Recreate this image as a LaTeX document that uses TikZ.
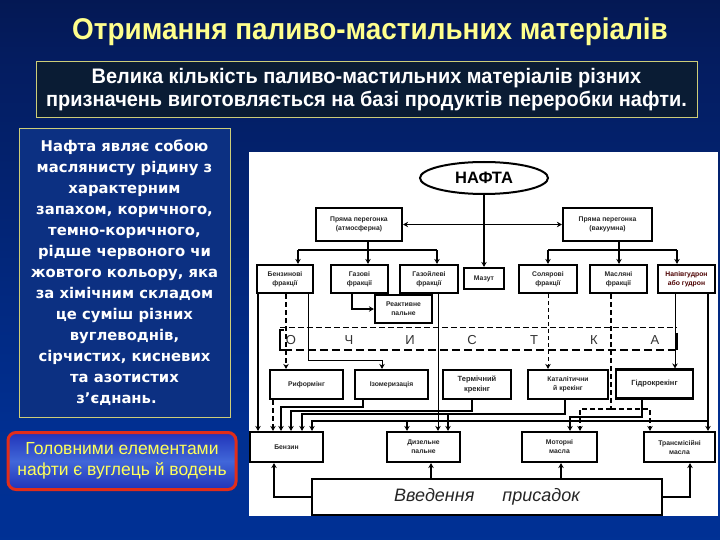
\documentclass[tikz,border=0pt]{standalone}
\usepackage{fontspec}
\setmainfont{Liberation Sans}
\newfontfamily\titlesans{Liberation Sans}[FakeStretch=0.93]
\newfontfamily\introsans{Liberation Sans}[FakeStretch=0.95]
\newfontfamily\dejasans{DejaVu Sans}
\usetikzlibrary{arrows.meta,shapes.geometric}
\definecolor{bgtop}{RGB}{2,6,28}
\definecolor{bgmid}{RGB}{4,28,95}
\definecolor{bgbot}{RGB}{0,51,155}
\definecolor{titleyellow}{RGB}{255,255,140}
\definecolor{boxborder}{RGB}{205,205,120}
\definecolor{darkbox}{RGB}{10,28,52}
\definecolor{descbox}{RGB}{12,48,130}
\definecolor{redframe}{RGB}{225,45,25}
\definecolor{notetext}{RGB}{255,255,90}
\pgfdeclareverticalshading{slidebg}{100bp}{color(0bp)=(bgbot); color(35bp)=(bgbot!85!bgmid); color(70bp)=(bgmid); color(100bp)=(bgtop)}
\pgfdeclareverticalshading{noteshade}{100bp}{color(0bp)=(blue!60!black); color(50bp)=(blue!75!cyan!70!white!85!black); color(100bp)=(blue!60!black)}
\begin{document}
\begin{tikzpicture}[x=1pt,y=-1pt,
  bx/.style={draw=black, line width=2.2pt, fill=white, inner sep=1pt, align=center,
     font=\fontsize{6.8}{9}\selectfont\bfseries, text=black!85},
  ln/.style={line width=1.3pt, black},
  thinln/.style={line width=0.8pt, black},
  dsh/.style={line width=1.8pt, black, dash pattern=on 5pt off 3pt},
  dshthin/.style={line width=0.9pt, black, dash pattern=on 4pt off 3pt},
  arr/.style={-{Stealth[length=5pt,width=5.5pt]}},
  letter/.style={font=\fontsize{13}{13}\selectfont, text=black!80}
]
\useasboundingbox (0,0) rectangle (720,540);
\fill[shading=slidebg] (0,0) rectangle (720,540);

% title
\node[font=\titlesans\bfseries\fontsize{30}{34}\selectfont, text=titleyellow] (title) at (370,32)
  {Отримання паливо-мастильних матеріалів};

% intro box
\node[draw=boxborder, line width=1pt, fill=darkbox, minimum width=661pt, minimum height=56pt,
  align=center, text=white, font=\introsans\bfseries\fontsize{21}{23}\selectfont] (intro) at (366.5,90)
  {Велика кількість паливо-мастильних матеріалів різних\\призначень виготовляється на базі продуктів переробки нафти.};

% description box
\node[draw=boxborder, line width=0.9pt, fill=descbox, minimum width=211pt, minimum height=289pt,
  align=center, text=white, font=\dejasans\bfseries\fontsize{14.8}{21}\selectfont] (desc) at (124.5,272.5)
  {Нафта являє собою\\маслянисту рідину з\\характерним\\запахом, коричного,\\темно-коричного,\\рідше червоного чи\\жовтого кольору, яка\\за хімічним складом\\це суміш різних\\вуглеводнів,\\сірчистих, кисневих\\та азотистих\\з’єднань.\hspace*{16pt}};

% note box
\node[draw=redframe, line width=3pt, rounded corners=8pt, shading=noteshade, minimum width=228pt, minimum height=57pt,
  align=center, text=notetext, font=\fontsize{17.5}{21}\selectfont] (note) at (122,461)
  {Головними елементами\\нафти є вуглець й водень};

% diagram background
\fill[white] (249,152) rectangle (718,516);

% nodes
\node[draw=black, line width=2pt, ellipse, fill=white, minimum width=128pt, minimum height=32pt,
  font=\fontsize{16.5}{18}\selectfont\bfseries] (nafta) at (484,178) {НАФТА};
\node[bx, minimum width=86pt, minimum height=33pt] (pa) at (359,224.5) {Пряма перегонка\\(атмосферна)};
\node[bx, minimum width=89pt, minimum height=33pt] (pv) at (607.5,224.5) {Пряма перегонка\\(вакуумна)};

\node[bx, minimum width=56pt, minimum height=28pt] (bf) at (285,279) {Бензинові\\фракції};
\node[bx, minimum width=57pt, minimum height=28pt] (gf) at (359.5,279) {Газові\\фракції};
\node[bx, minimum width=58pt, minimum height=28pt] (gof) at (429,279) {Газойлеві\\фракції};
\node[bx, minimum width=40pt, minimum height=21pt] (maz) at (484,278.5) {Мазут};
\node[bx, minimum width=58pt, minimum height=28pt] (sf) at (548,279) {Солярові\\фракції};
\node[bx, minimum width=57pt, minimum height=28pt] (mf) at (618.5,279) {Масляні\\фракції};
\node[bx, minimum width=57pt, minimum height=28pt, text=red!30!black] (ng) at (686.5,279) {Напівгудрон\\або гудрон};

\node[bx, minimum width=57pt, minimum height=28pt] (rp) at (403.5,309) {Реактивне\\пальне};

\node[bx, minimum width=73pt, minimum height=29pt] (rif) at (306.5,384.5) {Риформінг};
\node[bx, minimum width=73pt, minimum height=29pt] (izo) at (391.5,384.5) {Ізомеризація};
\node[bx, minimum width=68pt, minimum height=29pt, font=\fontsize{7.5}{10}\selectfont\bfseries] (ter) at (477,384.5) {Термічний\\крекінг};
\node[bx, minimum width=80pt, minimum height=29pt] (kat) at (568,384.5) {Каталітични\\й крекінг};
\node[bx, minimum width=77pt, minimum height=29pt, font=\fontsize{7.5}{10}\selectfont\bfseries] (gid) at (654.5,384) {Гідрокрекінг};

\node[bx, minimum width=73pt, minimum height=30pt] (benz) at (286.5,447) {Бензин};
\node[bx, minimum width=73pt, minimum height=30pt] (diz) at (423.5,447) {Дизельне\\пальне};
\node[bx, minimum width=75pt, minimum height=30pt] (mot) at (559.5,447) {Моторні\\масла};
\node[bx, minimum width=71pt, minimum height=30pt] (tr) at (679.5,447) {Трансмісійні\\масла};

\node[bx, minimum width=350pt, minimum height=36pt, font=\fontsize{18}{20}\selectfont\itshape\mdseries] (vp) at (487,497)
  {Введення\hspace{28pt}присадок};

% OCHISTKA band
\node[minimum width=397pt, minimum height=22pt, inner sep=0pt] (och) at (478.5,339) {};
\draw[line width=1pt, dash pattern=on 6pt off 3pt] (och.north west) -- (och.north east);
\draw[line width=2pt, dash pattern=on 8pt off 4pt] ([xshift=4pt]och.south west) -- (och.south east);
\draw[line width=2.4pt] ([xshift=4pt,yshift=-2pt]och.north west) -- ([yshift=-2pt]och.north west) -- (och.south west) -- ([xshift=4pt]och.south west);
\draw[line width=2.4pt] ([yshift=-5pt]och.north east) -- (och.south east);
\node[letter] (l1) at (291,340) {О};
\node[letter] (l2) at (349,340) {Ч};
\node[letter] (l3) at (410,340) {И};
\node[letter] (l4) at (472,340) {С};
\node[letter] (l5) at (534,340) {Т};
\node[letter] (l6) at (594,340) {К};
\node[letter] (l7) at (655,340) {А};

% NAFTA connectors
\draw[ln,arr] (nafta.south) -- (maz.north);
\draw[ln,{Stealth[length=5pt,width=5.5pt]}-{Stealth[length=5pt,width=5.5pt]}] (pa.east) -- (pv.west);

% atmospheric bus
\coordinate (pa1) at (368,250);
\coordinate (b1) at (298,250);
\coordinate (b2) at (437,250);
\draw[ln] (pa1 |- pa.south) -- (pa1);
\draw[ln] (b1) -- (b2);
\draw[ln,arr] (b1) -- (b1 |- bf.north);
\draw[ln,arr] (pa1) -- (pa1 |- gf.north);
\draw[ln,arr] (b2) -- (b2 |- gof.north);

% vacuum bus
\coordinate (pv1) at (619,250);
\coordinate (b3) at (548,250);
\coordinate (b4) at (677,250);
\draw[ln] (pv1 |- pv.south) -- (pv1);
\draw[ln] (b3) -- (b4);
\draw[ln,arr] (b3) -- (b3 |- sf.north);
\draw[ln,arr] (pv1) -- (pv1 |- mf.north);
\draw[ln,arr] (b4) -- (b4 |- ng.north);

% gas fractions -> jet fuel
\coordinate (g1) at (352,309);
\draw[ln,arr] (g1 |- gf.south) -- (g1) -- (rp.west);

% gasoline fractions
\coordinate (k1) at (258,300);
\coordinate (k2) at (286,300);
\coordinate (k3) at (308,360);
\coordinate (k4) at (382,360);
\draw[ln,arr] (k1 |- bf.south) -- (k1 |- benz.north);
\draw[dsh,arr] (k2 |- bf.south) -- (k2 |- rif.north);
\draw[thinln,arr] (k3 |- bf.south) -- (k3) -- (k4) -- (k4 |- izo.north);

% gasoil -> diesel
\coordinate (k5) at (438,300);
\draw[thinln,arr] (k5 |- gof.south) -- (k5 |- diz.north);

% solar -> catalytic
\draw[dshthin,arr] (b3 |- sf.south) -- (b3 |- kat.north);

% oil fractions -> motor / transmission oils
\coordinate (m0) at (611,409);
\coordinate (m1) at (580,409);
\coordinate (m2) at (650,409);
\draw[dsh] (m0 |- mf.south) -- (m0);
\draw[dsh,arr] (m0) -- (m1) -- (m1 |- mot.north);
\draw[dsh,arr] (m0) -- (m2) -- (m2 |- tr.north);

% tar -> hydrocracking / outputs
\coordinate (n3) at (675,300);
\draw[thinln,arr] (n3 |- ng.south) -- (n3 |- gid.north);
\coordinate (n0) at (708,421);
\coordinate (n1) at (312,421);
\coordinate (n2) at (407,421);
\draw[ln,arr] (n0 |- ng.south) -- (n0 |- tr.north);
\draw[ln,arr] (n0) -- (n1) -- (n1 |- benz.north);
\draw[ln,arr] (n2) -- (n2 |- diz.north);

% reforming -> gasoline
\coordinate (r1) at (273,420);
\draw[dsh,arr] (r1 |- rif.south) -- (r1 |- benz.north);

% isomerisation -> gasoline
\coordinate (i0) at (363,407);
\coordinate (i1) at (281,407);
\draw[ln,arr] (i0 |- izo.south) -- (i0) -- (i1) -- (i1 |- benz.north);

% thermal cracking -> gasoline
\coordinate (t0) at (472,411);
\coordinate (t1) at (291,411);
\draw[ln,arr] (t0 |- ter.south) -- (t0) -- (t1) -- (t1 |- benz.north);

% catalytic cracking -> gasoline, diesel
\coordinate (c0) at (565,414);
\coordinate (c1) at (302,414);
\coordinate (c2) at (448,414);
\draw[ln,arr] (c0 |- kat.south) -- (c0) -- (c1) -- (c1 |- benz.north);
\draw[ln,arr] (c2) -- (c2 |- diz.north);

% hydrocracking -> motor oils
\coordinate (h0) at (642,417);
\coordinate (h1) at (570,417);
\draw[ln,arr] (h0 |- gid.south) -- (h0) -- (h1) -- (h1 |- mot.north);

% additives
\coordinate (v1) at (274,497);
\coordinate (v2) at (431,470);
\coordinate (v3) at (561,470);
\coordinate (v4) at (690,497);
\draw[ln,arr] (vp.west) -- (v1) -- (v1 |- benz.south);
\draw[ln,arr] (v2 |- vp.north) -- (v2 |- diz.south);
\draw[ln,arr] (v3 |- vp.north) -- (v3 |- mot.south);
\draw[ln,arr] (vp.east) -- (v4) -- (v4 |- tr.south);
\end{tikzpicture}
\end{document}
